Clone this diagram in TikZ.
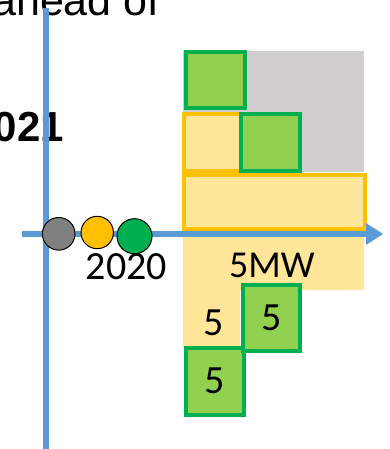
\documentclass[tikz,border=0pt]{standalone}
\usepackage{fontspec}
\setmainfont{Liberation Sans}
\newfontfamily\labelfont{Carlito}
\definecolor{axisblue}{HTML}{5B9BD5}
\definecolor{leafgreen}{HTML}{92D050}
\definecolor{darkgreen}{HTML}{00B050}
\definecolor{amber}{HTML}{FFC000}
\definecolor{paleamber}{HTML}{FFE699}
\definecolor{paleGray}{HTML}{D0CECE}
\definecolor{midgray}{HTML}{808080}
\begin{document}
\begin{tikzpicture}[x=1pt,y=-1pt,
  greenbox/.style={draw=darkgreen,fill=leafgreen,line width=4pt,inner sep=0pt,
    font=\labelfont\fontsize{40}{48}\selectfont},
  amberbox/.style={draw=amber,fill=paleamber,line width=4pt,inner sep=0pt},
  dot/.style={circle,draw=black,line width=1pt,inner sep=0pt},
  numlabel/.style={inner sep=0pt,anchor=base,font=\labelfont\fontsize{40}{48}\selectfont},
  axis/.style={draw=axisblue,line width=5.5pt}]
\useasboundingbox (0,0) rectangle (389,449);

% captions at the upper left
\node[anchor=base west,inner sep=0pt,font=\fontsize{43}{50}\selectfont] (caption) at (-8,16) {ahead of};
\node[anchor=base east,inner sep=0pt,font=\bfseries\fontsize{42}{50}\selectfont] (year) at (64,142) {021};

% stacked blocks above the time line
\fill[paleGray] (183,51) rectangle (364,172);
\node[greenbox,minimum width=59.1pt,minimum height=56pt] (g1) at (215.75,80) {};
\node[amberbox,minimum width=58.8pt,minimum height=57.7pt] (a1) at (213.6,142.6) {};
\node[greenbox,minimum width=58.4pt,minimum height=57.5pt] (g2) at (270.5,142.4) {};
\node[amberbox,minimum width=180.8pt,minimum height=53.5pt] (a2) at (274.6,202) {};

% pale band below the time line
\fill[paleamber] (183,237) -- (364,237) -- (364,290) -- (240,290) -- (240,348) -- (183,348) -- cycle;
\node[numlabel,font=\labelfont\fontsize{38}{46}\selectfont] (mw) at (272,277) {5MW};
\node[numlabel] (n1) at (213.5,335) {5};
\node[greenbox,minimum width=57.4pt,minimum height=66.7pt] (g4) at (215,381.3) {5};
\node[greenbox,minimum width=57pt,minimum height=66.6pt] (g3) at (271.2,318) {5};

% axes
\coordinate (ytop) at (46,8.3);
\coordinate (ybot) at (46,449);
\coordinate (xleft) at (21.7,234);
\coordinate (xend) at (366,234);
\coordinate (xtip) at (383,234);
\draw[axis] (ytop) -- (ybot);
\draw[axis] (xleft) -- (xend);
\fill[axisblue] (366,223) -- (xtip) -- (366,245) -- cycle;

% status dots
\node[dot,fill=midgray,minimum size=32.6pt] (grey) at (58.7,233.8) {};
\node[dot,fill=amber,minimum size=32.4pt] (amberdot) at (97.2,232.5) {};
\node[dot,fill=darkgreen,minimum size=35pt] (greendot) at (134.5,236.2) {};
\node[numlabel] (yr) at (126.5,279) {2020};
\end{tikzpicture}
\end{document}
